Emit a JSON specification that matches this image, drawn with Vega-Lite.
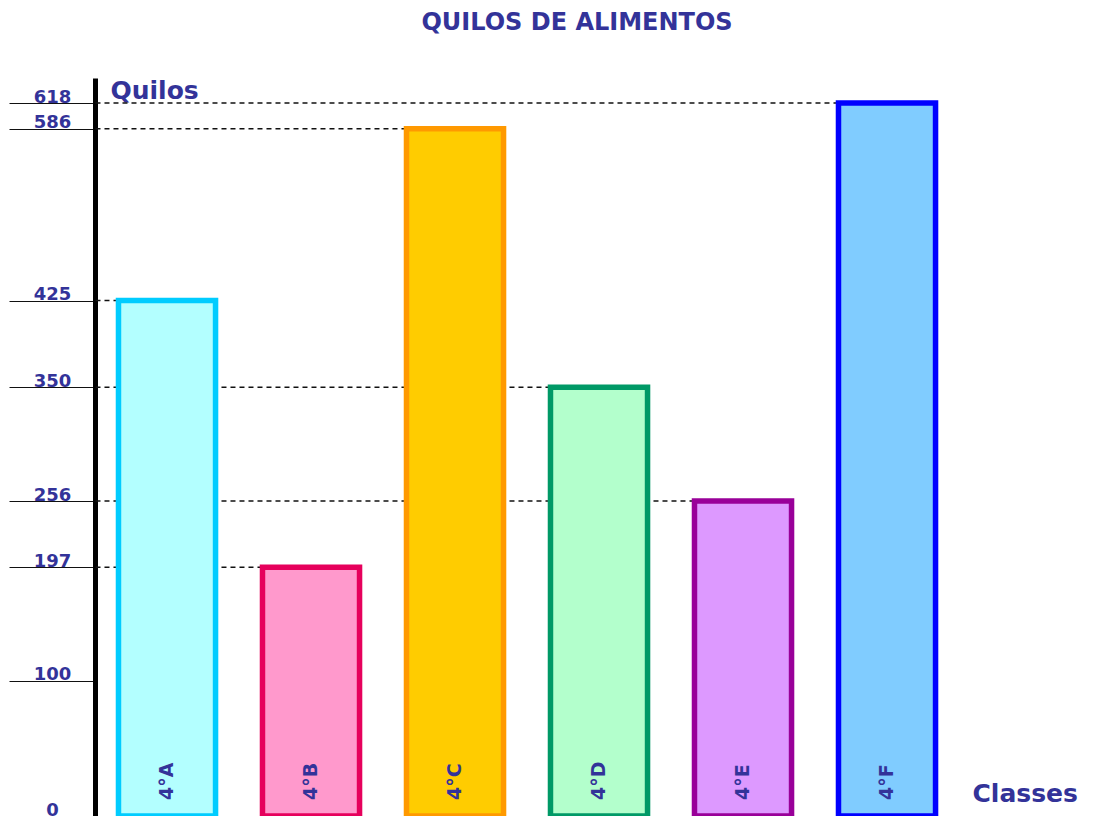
{
  "$schema": "https://vega.github.io/schema/vega-lite/v6.json",
  "width": 1008,
  "height": 771,
  "autosize": {"type": "none"},
  "padding": {"left": 95, "top": 45, "right": 0, "bottom": 0},
  "background": "white",
  "title": {"text": "QUILOS DE ALIMENTOS", "fontSize": 24, "font": "DejaVu Sans", "fontWeight": "bold", "color": "#333399", "anchor": "middle", "dx": -22, "offset": 10},
  "config": {"view": {"stroke": null}},
  "data": {"values": [
    {"classe": "4°A", "quilos": 425},
    {"classe": "4°B", "quilos": 197},
    {"classe": "4°C", "quilos": 586},
    {"classe": "4°D", "quilos": 350},
    {"classe": "4°E", "quilos": 256},
    {"classe": "4°F", "quilos": 618}
  ]},
  "layer": [
    {
      "mark": {"type": "rule", "strokeDash": [5, 4], "color": "#111111", "strokeWidth": 1.5},
      "encoding": {
        "x": {"field": "classe", "type": "nominal", "sort": null, "bandPosition": 0},
        "x2": {"value": 0},
        "y": {"field": "quilos", "type": "quantitative"}
      }
    },
    {
      "mark": {"type": "bar", "strokeWidth": 5.5},
      "encoding": {
        "x": {
          "field": "classe", "type": "nominal", "sort": null,
          "scale": {"paddingInner": 0.326, "paddingOuter": 0.663, "align": 0.123},
          "axis": {"orient": "bottom", "domainColor": "black", "domainWidth": 1, "ticks": false, "labels": false, "grid": false,
            "title": "Classes", "titleFontSize": 25, "titleFont": "DejaVu Sans", "titleFontWeight": "bold", "titleColor": "#333399",
            "titleAlign": "left", "titleBaseline": "middle", "titleX": 877, "titleY": -23}
        },
        "y": {
          "field": "quilos", "type": "quantitative",
          "scale": {"domain": [0, 100, 197, 256, 350, 425, 586, 618, 640], "range": [771, 635.7, 522.3, 456, 342.3, 255.5, 83.7, 58, 33], "nice": false, "zero": false},
          "axis": {"values": [0, 100, 197, 256, 350, 425, 586, 618], "grid": false, "domainColor": "black", "domainWidth": 5,
            "tickColor": "#111111", "tickWidth": 1, "tickSize": 86, "labelPadding": -43, "labelAlign": "center", "labelBaseline": "alphabetic",
            "labelOffset": -1, "labelFont": "DejaVu Sans", "labelFontWeight": "bold", "labelFontSize": 18, "labelColor": "#333399",
            "labelOverlap": false, "labelFlush": false, "labelBound": false,
            "title": "Quilos", "titleAngle": 0, "titleAlign": "left", "titleBaseline": "middle", "titleX": 15, "titleY": 45,
            "titleFont": "DejaVu Sans", "titleFontWeight": "bold", "titleFontSize": 25, "titleColor": "#333399"}
        },
        "fill": {"field": "classe", "type": "nominal", "legend": null,
          "scale": {"domain": ["4°A", "4°B", "4°C", "4°D", "4°E", "4°F"], "range": ["#b3ffff", "#ff99cc", "#ffcc00", "#b3ffcc", "#dd99ff", "#80ccff"]}},
        "stroke": {"field": "classe", "type": "nominal", "legend": null,
          "scale": {"domain": ["4°A", "4°B", "4°C", "4°D", "4°E", "4°F"], "range": ["#00ccff", "#e6005c", "#ff9900", "#009966", "#990099", "#0000ff"]}}
      }
    },
    {
      "mark": {"type": "text", "angle": 270, "align": "left", "baseline": "middle", "dx": 16, "font": "DejaVu Sans", "fontWeight": "bold", "fontSize": 19, "color": "#333399"},
      "encoding": {
        "x": {"field": "classe", "type": "nominal", "sort": null},
        "y": {"datum": 0, "type": "quantitative"},
        "text": {"field": "classe"}
      }
    }
  ]
}
